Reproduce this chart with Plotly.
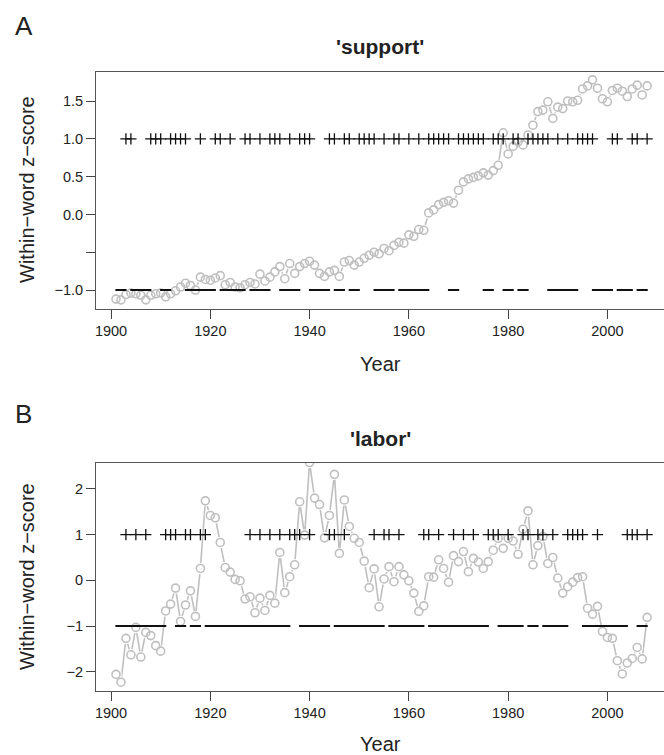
import plotly.graph_objects as go

years = list(range(1901, 2009))

support = [-1.12, -1.13, -1.06, -1.04, -1.05, -1.07, -1.13, -1.07, -1.05, -1.04,
           -1.09, -1.05, -1.01, -0.96, -0.91, -0.94, -1.00, -0.83, -0.86, -0.87,
           -0.84, -0.81, -0.93, -0.90, -0.96, -0.97, -0.93, -0.90, -0.92, -0.79,
           -0.88, -0.83, -0.76, -0.69, -0.85, -0.65, -0.78, -0.69, -0.65, -0.62,
           -0.67, -0.78, -0.82, -0.76, -0.74, -0.82, -0.63, -0.61, -0.67, -0.63,
           -0.58, -0.54, -0.50, -0.52, -0.45, -0.48, -0.41, -0.37, -0.38, -0.27,
           -0.29, -0.20, -0.21, 0.02, 0.06, 0.13, 0.16, 0.18, 0.15, 0.32,
           0.43, 0.47, 0.49, 0.51, 0.55, 0.52, 0.58, 0.65, 1.08, 0.80,
           0.90, 0.96, 0.92, 1.05, 1.18, 1.36, 1.38, 1.49, 1.27, 1.42,
           1.40, 1.50, 1.49, 1.51, 1.66, 1.70, 1.78, 1.67, 1.53, 1.49,
           1.64, 1.67, 1.63, 1.56, 1.66, 1.71, 1.58, 1.70]

labor = [-2.06, -2.23, -1.27, -1.63, -1.03, -1.68, -1.14, -1.21, -1.43, -1.55,
         -0.67, -0.52, -0.17, -0.90, -0.54, -0.23, -0.79, 0.26, 1.74, 1.42,
         1.37, 0.83, 0.28, 0.18, 0.02, -0.01, -0.41, -0.36, -0.71, -0.39,
         -0.66, -0.33, -0.50, 0.61, -0.27, 0.08, 0.34, 1.72, 0.99, 2.58,
         1.80, 1.66, 0.93, 1.42, 2.32, 0.59, 1.76, 1.18, 0.92, 0.83,
         0.42, -0.16, 0.25, -0.58, 0.03, 0.30, -0.03, 0.30, 0.12, -0.01,
         -0.28, -0.68, -0.56, 0.08, 0.07, 0.45, 0.26, -0.04, 0.54, 0.41,
         0.63, 0.19, 0.48, 0.40, 0.26, 0.41, 0.66, 0.92, 0.70, 0.92,
         0.86, 0.57, 1.12, 1.52, 0.34, 0.76, 0.96, 0.37, 0.50, 0.05,
         -0.28, -0.14, -0.04, 0.06, 0.08, -0.61, -0.74, -0.57, -1.12, -1.25,
         -1.27, -1.76, -2.05, -1.81, -1.71, -1.47, -1.72, -0.81]

support_plus = [1903, 1904, 1908, 1909, 1910, 1912, 1913, 1914, 1915, 1918, 1921, 1922,
                1924, 1927, 1928, 1930, 1932, 1933, 1934, 1936, 1938, 1939, 1940, 1944,
                1945, 1947, 1948, 1950, 1951, 1952, 1953, 1955, 1957, 1958, 1960, 1962,
                1964, 1965, 1966, 1967, 1968, 1970, 1971, 1972, 1973, 1974, 1975, 1977,
                1978, 1979, 1981, 1982, 1984, 1985, 1986, 1987, 1988, 1990, 1992, 1994,
                1995, 1996, 1997, 2001, 2002, 2005, 2006, 2008]
support_minus = [1902, 1905, 1906, 1907, 1911, 1916, 1917, 1919, 1920, 1923, 1925, 1926,
                 1929, 1931, 1935, 1937, 1941, 1942, 1943, 1946, 1949, 1954, 1956, 1959,
                 1961, 1963, 1969, 1976, 1980, 1983, 1989, 1991, 1993, 1998, 1999, 2000,
                 2003, 2004, 2007]

labor_plus = [1903, 1905, 1907, 1911, 1912, 1913, 1915, 1916, 1918, 1919, 1928, 1930,
              1932, 1934, 1936, 1937, 1938, 1940, 1944, 1945, 1947, 1953, 1955, 1956,
              1958, 1963, 1964, 1966, 1969, 1971, 1973, 1976, 1977, 1978, 1980, 1983,
              1984, 1986, 1987, 1989, 1992, 1993, 1994, 1995, 1998, 2004, 2005, 2006, 2008]
labor_minus = [1902, 1904, 1906, 1908, 1909, 1910, 1914, 1917, 1920, 1921, 1922, 1923,
               1924, 1925, 1926, 1927, 1929, 1931, 1933, 1935, 1939, 1941, 1942, 1943,
               1946, 1948, 1949, 1950, 1951, 1952, 1954, 1957, 1959, 1960, 1961, 1962,
               1965, 1967, 1968, 1970, 1972, 1974, 1975, 1979, 1981, 1982, 1985, 1988,
               1990, 1991, 1996, 1997, 1999, 2000, 2001, 2002, 2003, 2007]

x_ticks = [1900, 1920, 1940, 1960, 1980, 2000]
a_ticks = [-1.0, -0.5, 0.0, 0.5, 1.0, 1.5]
a_ticktext = ["\u22121.0", "", "0.0", "0.5", "1.0", "1.5"]
b_ticks = [-2, -1, 0, 1, 2]
b_ticktext = ["\u22122", "\u22121", "0", "1", "2"]

PLUS_LEVEL = 1.0
MINUS_LEVEL = -1.0

FONT = "Liberation Sans, Arial, sans-serif"
GREY = "#bfbfbf"
TXT = "#222222"

fig = go.Figure()


def add_panel(vals, plus, minus, xa, ya):
    fig.add_trace(go.Scatter(x=years, y=vals, mode="lines",
                             line=dict(color=GREY, width=1.6),
                             xaxis=xa, yaxis=ya, hoverinfo="skip"))
    fig.add_trace(go.Scatter(x=years, y=vals, mode="markers",
                             marker=dict(symbol="circle", size=11.5, color="white",
                                         line=dict(width=0)),
                             xaxis=xa, yaxis=ya, hoverinfo="skip"))
    fig.add_trace(go.Scatter(x=years, y=vals, mode="markers",
                             marker=dict(symbol="circle-open", size=8, color=GREY,
                                         line=dict(width=1.6, color=GREY)),
                             xaxis=xa, yaxis=ya))
    fig.add_trace(go.Scatter(x=plus, y=[PLUS_LEVEL] * len(plus), mode="markers",
                             marker=dict(symbol="cross-thin", size=8,
                                         line=dict(width=1.3, color="#111111")),
                             xaxis=xa, yaxis=ya))
    fig.add_trace(go.Scatter(x=minus, y=[MINUS_LEVEL] * len(minus), mode="markers",
                             marker=dict(symbol="line-ew", size=8,
                                         line=dict(width=2, color="#111111")),
                             xaxis=xa, yaxis=ya))


add_panel(support, support_plus, support_minus, "x", "y")
add_panel(labor, labor_plus, labor_minus, "x2", "y2")

W, H = 664, 755
x_dom = [96 / W, 1.0]
a_dom = [1 - 309 / H, 1 - 72 / H]
b_dom = [1 - 691 / H, 1 - 463 / H]

xcommon = dict(range=[1896.97, 2011.4], tickvals=x_ticks, ticks="outside", ticklen=9,
               tickcolor="#444", tickwidth=1, showline=True, mirror=True,
               linecolor="#555", linewidth=1, showgrid=False, zeroline=False,
               tickfont=dict(family=FONT, size=14.5, color=TXT), domain=x_dom)
ycommon = dict(ticks="outside", ticklen=9, tickcolor="#444", tickwidth=1,
               showline=True, mirror=False, linecolor="#555", linewidth=1,
               showgrid=False, zeroline=False,
               tickfont=dict(family=FONT, size=14.5, color=TXT))

fig.update_layout(
    width=W, height=H, margin=dict(l=0, r=0, t=0, b=0),
    paper_bgcolor="white", plot_bgcolor="white", showlegend=False,
    xaxis=dict(xcommon, anchor="y"),
    xaxis2=dict(xcommon, anchor="y2"),
    yaxis=dict(ycommon, domain=a_dom, anchor="x", range=[-1.251, 1.884],
               tickvals=a_ticks, ticktext=a_ticktext),
    yaxis2=dict(ycommon, domain=b_dom, anchor="x2", range=[-2.423, 2.569],
                tickvals=b_ticks, ticktext=b_ticktext),
)


def ann(text, x, y, size, bold=False, angle=0):
    fig.add_annotation(text=f"<b>{text}</b>" if bold else text,
                       x=x / W, y=1 - y / H, xref="paper", yref="paper",
                       showarrow=False, textangle=angle,
                       font=dict(family=FONT, size=size, color=TXT),
                       xanchor="center", yanchor="middle")


ann("A", 24, 26, 26)
ann("B", 23, 414, 26)
ann("'support'", 380, 47, 21, bold=True)
ann("'labor'", 380, 438, 21, bold=True)
ann("Year", 380, 364, 20)
ann("Year", 380, 744, 20)
ann("Within\u2212word z\u2212score", 27, 190, 20, angle=-90)
ann("Within\u2212word z\u2212score", 27, 577, 20, angle=-90)

fig.write_html("out.html")
